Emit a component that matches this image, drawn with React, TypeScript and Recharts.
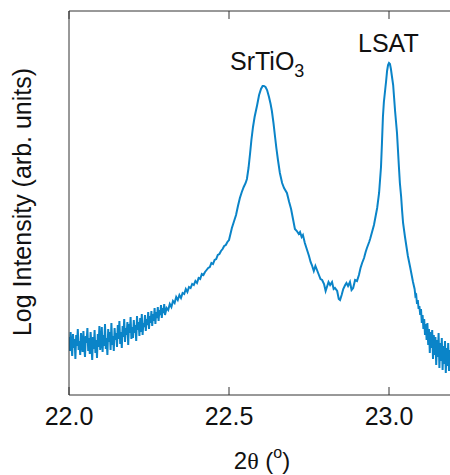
import { Line, LineChart, XAxis, YAxis } from "recharts";

// 2theta scan, log intensity in arbitrary units
const bgTheta = [
  22.0, 22.0025, 22.005, 22.0075, 22.01, 22.0125, 22.015, 22.0175, 22.02, 22.0225,
  22.025, 22.0275, 22.03, 22.0325, 22.035, 22.0375, 22.04, 22.0425, 22.045, 22.0475,
  22.05, 22.0525, 22.055, 22.0575, 22.06, 22.0625, 22.065, 22.0675, 22.07, 22.0725,
  22.075, 22.0775, 22.08, 22.0825, 22.085, 22.0875, 22.09, 22.0925, 22.095, 22.0975,
  22.1, 22.1025, 22.105, 22.1075, 22.11, 22.1125, 22.115, 22.1175, 22.12, 22.1225,
  22.125, 22.1275, 22.13, 22.1325, 22.135, 22.1375, 22.14, 22.1425, 22.145, 22.1475,
  22.15, 22.1525, 22.155, 22.1575, 22.16, 22.1625, 22.165, 22.1675, 22.17, 22.1725,
  22.175, 22.1775, 22.18, 22.1825, 22.185, 22.1875, 22.19, 22.1925, 22.195, 22.1975,
  22.2, 22.2025, 22.205, 22.2075, 22.21, 22.2125, 22.215, 22.2175, 22.22, 22.2225,
  22.225, 22.2275, 22.23, 22.2325, 22.235, 22.2375, 22.24, 22.2425, 22.245, 22.2475,
  22.25, 22.2525, 22.255, 22.2575, 22.26, 22.2625, 22.265, 22.2675, 22.27, 22.2725,
  22.275, 22.2775, 22.28, 22.2825, 22.285, 22.2875, 22.29, 22.2925, 22.295, 22.2975,
  22.3, 22.305, 22.31, 22.315, 22.32, 22.325, 22.33, 22.335, 22.34, 22.345,
  22.35, 22.355, 22.36, 22.365, 22.37, 22.375, 22.38, 22.385, 22.39, 22.395,
  22.4, 22.405, 22.41, 22.415, 22.42, 22.425, 22.43, 22.435, 22.44, 22.445,
  22.45, 22.455, 22.46, 22.465, 22.47, 22.475, 22.48, 22.485, 22.49, 22.495, 22.5,
];
const bgLogI = [
  0.58, 0.44, 0.63, 0.5, 0.39, 0.61, 0.47, 0.56, 0.36, 0.6,
  0.49, 0.66, 0.45, 0.54, 0.4, 0.62, 0.51, 0.43, 0.64, 0.48,
  0.38, 0.59, 0.52, 0.67, 0.44, 0.57, 0.41, 0.63, 0.5, 0.35,
  0.58, 0.46, 0.65, 0.42, 0.55, 0.37, 0.61, 0.48, 0.69, 0.45,
  0.52, 0.68, 0.43, 0.6, 0.49, 0.71, 0.46, 0.57, 0.4, 0.66,
  0.53, 0.63, 0.45, 0.72, 0.5, 0.59, 0.44, 0.67, 0.55, 0.62,
  0.48, 0.7, 0.56, 0.74, 0.51, 0.63, 0.47, 0.69, 0.58, 0.76,
  0.53, 0.67, 0.6, 0.73, 0.5, 0.71, 0.62, 0.78, 0.56, 0.68,
  0.57, 0.75, 0.62, 0.7, 0.54, 0.79, 0.65, 0.73, 0.59, 0.77,
  0.63, 0.81, 0.6, 0.72, 0.68, 0.8, 0.64, 0.76, 0.7, 0.83,
  0.66, 0.79, 0.72, 0.84, 0.69, 0.81, 0.74, 0.87, 0.71, 0.83,
  0.77, 0.88, 0.74, 0.85, 0.8, 0.9, 0.77, 0.87, 0.82, 0.91,
  0.8, 0.87, 0.85, 0.91, 0.88, 0.94, 0.92, 0.98, 0.95, 1.0,
  0.97, 1.02, 1.01, 1.06, 1.03, 1.08, 1.07, 1.11, 1.1, 1.14,
  1.12, 1.17, 1.16, 1.21, 1.2, 1.23, 1.25, 1.27, 1.28, 1.32,
  1.31, 1.35, 1.36, 1.4, 1.41, 1.44, 1.46, 1.49, 1.5, 1.53, 1.55,
];

const stoTheta = [
  22.509, 22.515, 22.522, 22.528, 22.534, 22.54, 22.546, 22.552, 22.556, 22.561,
  22.566, 22.57, 22.575, 22.58, 22.588, 22.594, 22.6, 22.605, 22.609, 22.614,
  22.619, 22.625, 22.63, 22.634, 22.639, 22.644, 22.648, 22.653, 22.659, 22.666,
  22.672, 22.681, 22.688, 22.694, 22.7, 22.706, 22.712, 22.718, 22.722, 22.727,
  22.731, 22.737, 22.744, 22.75, 22.755, 22.759, 22.765, 22.77, 22.775, 22.781,
  22.786, 22.791, 22.797, 22.802, 22.806, 22.811, 22.816, 22.822, 22.827, 22.831,
  22.838, 22.843, 22.847, 22.852, 22.857, 22.863, 22.867, 22.872, 22.878, 22.883,
  22.888, 22.894, 22.9, 22.906, 22.911, 22.916, 22.922, 22.927, 22.931, 22.938,
];
const stoLogI = [
  1.67, 1.73, 1.8, 1.89, 1.97, 2.03, 2.08, 2.12, 2.16, 2.27,
  2.42, 2.55, 2.68, 2.78, 2.9, 3.0, 3.06, 3.09, 3.09, 3.08,
  3.05, 2.98, 2.91, 2.84, 2.72, 2.58, 2.47, 2.35, 2.22, 2.12,
  2.07, 2.02, 1.93, 1.86, 1.76, 1.66, 1.64, 1.61, 1.63, 1.58,
  1.6, 1.52, 1.45, 1.39, 1.33, 1.3, 1.24, 1.29, 1.25, 1.2,
  1.16, 1.15, 1.11, 1.04, 1.08, 1.13, 1.1, 1.13, 1.06, 1.07,
  1.04, 0.96, 0.95, 1.0, 1.06, 1.1, 1.12, 1.09, 1.13, 1.05,
  1.07, 1.15, 1.14, 1.2, 1.27, 1.32, 1.37, 1.43, 1.47, 1.53,
];

const lsatTheta = [
  22.941, 22.953, 22.963, 22.969, 22.975, 22.978, 22.981, 22.984, 22.988, 22.991,
  22.994, 22.997, 23.0, 23.003, 23.006, 23.009, 23.013, 23.016, 23.019, 23.022,
  23.025, 23.028, 23.031, 23.034, 23.038, 23.041, 23.044, 23.05, 23.059, 23.066, 23.075,
];
const lsatLogI = [
  1.56, 1.7, 1.87, 2.02, 2.28, 2.52, 2.78, 2.93, 3.05, 3.14,
  3.24, 3.3, 3.32, 3.31, 3.26, 3.19, 3.1, 2.97, 2.84, 2.73,
  2.62, 2.45, 2.28, 2.12, 1.98, 1.84, 1.72, 1.58, 1.39, 1.28, 1.13,
];

const tailTheta = [
  23.08, 23.0825, 23.085, 23.0875, 23.09, 23.0925, 23.095, 23.0975, 23.1, 23.1025,
  23.105, 23.1075, 23.11, 23.1125, 23.115, 23.1175, 23.12, 23.1225, 23.125, 23.1275,
  23.13, 23.1325, 23.135, 23.1375, 23.14, 23.1425, 23.145, 23.1475, 23.15, 23.1525,
  23.155, 23.1575, 23.16, 23.1625, 23.165, 23.1675, 23.17, 23.1725, 23.175, 23.1775,
  23.18, 23.1825, 23.185, 23.1875, 23.19, 23.1925, 23.195, 23.1975, 23.2,
];
const tailLogI = [
  1.06, 0.99, 1.0, 0.91, 0.95, 0.86, 0.89, 0.8, 0.86, 0.72,
  0.8, 0.66, 0.76, 0.6, 0.71, 0.55, 0.72, 0.5, 0.66, 0.42,
  0.63, 0.47, 0.65, 0.36, 0.6, 0.4, 0.58, 0.3, 0.55, 0.38,
  0.62, 0.27, 0.52, 0.34, 0.57, 0.25, 0.49, 0.31, 0.54, 0.22,
  0.47, 0.29, 0.52, 0.24, 0.45, 0.33, 0.5, 0.21, 0.42,
];

const xTicks = [22.0, 22.5, 23.0];

const thetaAll = [...bgTheta, ...stoTheta, ...lsatTheta, ...tailTheta];
const logIAll = [...bgLogI, ...stoLogI, ...lsatLogI, ...tailLogI];
const data = thetaAll.map((t, i) => ({ theta: t, logI: logIAll[i] }));

const font = "'Liberation Sans', Arial, sans-serif";
const axisColor = "#333";
const textColor = "#111";

const BottomTick = (props: any) => {
  const { x, y, payload } = props;
  return (
    <g>
      <line x1={x} x2={x} y1={y} y2={y - 8} stroke={axisColor} />
      <text x={x} y={y + 30} textAnchor="middle" fontSize={25} fontFamily={font} fill={textColor}>
        {Number(payload.value).toFixed(1)}
      </text>
    </g>
  );
};

const TopTick = (props: any) => {
  const { x, y } = props;
  return <line x1={x} x2={x} y1={y} y2={y + 8} stroke={axisColor} />;
};

export default function App() {
  return (
    <div
      style={{
        position: "fixed",
        left: 0,
        top: 0,
        width: 450,
        height: 475,
        overflow: "hidden",
        background: "#fff",
      }}
    >
      <LineChart width={455} height={475} data={data} margin={{ top: 10, right: 2, left: 0, bottom: 0 }}>
        <XAxis
          xAxisId="b"
          dataKey="theta"
          type="number"
          domain={[22, 23.2]}
          allowDataOverflow
          ticks={xTicks}
          interval={0}
          height={80}
          tickSize={0}
          tickMargin={0}
          tickLine={false}
          tick={<BottomTick />}
          axisLine={{ stroke: axisColor }}
        />
        <XAxis
          xAxisId="t"
          orientation="top"
          dataKey="theta"
          type="number"
          domain={[22, 23.2]}
          allowDataOverflow
          ticks={xTicks}
          interval={0}
          height={1}
          tickSize={0}
          tickMargin={0}
          tickLine={false}
          tick={<TopTick />}
          axisLine={{ stroke: axisColor }}
        />
        <YAxis
          type="number"
          domain={[0, 3.84]}
          allowDataOverflow
          width={69}
          tick={false}
          tickLine={false}
          axisLine={{ stroke: axisColor }}
        />
        <Line
          xAxisId="b"
          dataKey="logI"
          type="linear"
          stroke="#0a84c8"
          strokeWidth={2}
          dot={false}
          isAnimationActive={false}
        />
        <text
          x={31}
          y={202}
          transform="rotate(-90, 31, 202)"
          textAnchor="middle"
          fontSize={25}
          fontFamily={font}
          fill={textColor}
        >
          Log Intensity (arb. units)
        </text>
        <text x={262} y={469} textAnchor="middle" fontSize={24} fill={textColor}>
          <tspan fontFamily={font}>2</tspan>
          <tspan fontFamily="'Liberation Serif', 'DejaVu Serif', serif">θ</tspan>
          <tspan fontFamily={font}> (</tspan>
          <tspan fontFamily={font} fontSize={16} dy={-11}>o</tspan>
          <tspan fontFamily={font} dy={11}>)</tspan>
        </text>
        <text x={230} y={70} fontSize={25} fontFamily={font} fill={textColor}>
          SrTiO
          <tspan fontSize={18} dy={7}>3</tspan>
        </text>
        <text x={358} y={52} fontSize={25} fontFamily={font} fill={textColor}>
          LSAT
        </text>
      </LineChart>
    </div>
  );
}
